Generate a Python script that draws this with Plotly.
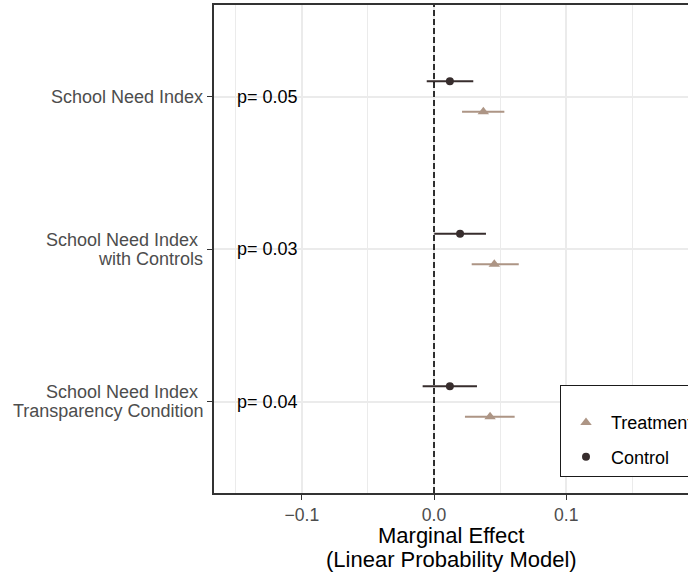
import plotly.graph_objects as go

categories = [["School Need Index"],
              ["School Need Index\u00a0", "with Controls"],
              ["School Need Index\u00a0", "Transparency Condition"]]
cat_pos = [3, 2, 1]
control_est = [0.012, 0.0197, 0.012]
control_lo = [-0.0055, 0.0002, -0.0086]
control_hi = [0.0297, 0.0393, 0.0325]
treat_est = [0.0373, 0.0456, 0.0424]
treat_lo = [0.0212, 0.0285, 0.0234]
treat_hi = [0.0532, 0.0641, 0.0610]
p_labels = ["p= 0.05", "p= 0.03", "p= 0.04"]
x_tickvals = [-0.1, 0.0, 0.1, 0.2]
x_ticktext = ["\u22120.1", "0.0", "0.1", "0.2"]
x_title_lines = ["Marginal Effect", "(Linear Probability Model)"]

dodge = 0.1
col_control = "#372D2D"
col_treat = "#AD9585"
FONT = "Liberation Sans, Arial, sans-serif"

fig = go.Figure()
fig.add_trace(go.Scatter(
    x=treat_est, y=[p - dodge for p in cat_pos], mode="markers", name="Treatment",
    legendgroup="t",
    marker=dict(symbol="triangle-up", size=10, color=col_treat),
    error_x=dict(type="data", symmetric=False,
                 array=[h - e for h, e in zip(treat_hi, treat_est)],
                 arrayminus=[e - l for e, l in zip(treat_est, treat_lo)],
                 width=0, thickness=2, color=col_treat),
))
fig.add_trace(go.Scatter(
    x=control_est, y=[p + dodge for p in cat_pos], mode="markers", name="Control",
    legendgroup="c",
    marker=dict(symbol="circle", size=8, color=col_control),
    error_x=dict(type="data", symmetric=False,
                 array=[h - e for h, e in zip(control_hi, control_est)],
                 arrayminus=[e - l for e, l in zip(control_est, control_lo)],
                 width=0, thickness=2, color=col_control),
))

fig.add_shape(type="line", xref="x", yref="paper", x0=0, x1=0, y0=0, y1=1,
              line=dict(color="black", width=1.6, dash="6px,3px"), layer="above")

# p-value labels
for p, lab in zip(cat_pos, p_labels):
    fig.add_annotation(x=-0.15, y=p, xref="x", yref="y", text=lab, showarrow=False,
                       xanchor="left", yanchor="middle", xshift=-1,
                       font=dict(family=FONT, size=18, color="black"))

# y category labels (tight line spacing like the reference)
LINE = 19
for p, lines in zip(cat_pos, categories):
    n = len(lines)
    for i, ln in enumerate(lines):
        fig.add_annotation(x=0, y=p, xref="paper", yref="y", text=ln, showarrow=False,
                           xanchor="right", yanchor="middle", xshift=-9,
                           yshift=((n - 1) / 2 - i) * LINE,
                           font=dict(family=FONT, size=18, color="#4D4D4D"))

# x axis title (two lines)
for i, ln in enumerate(x_title_lines):
    fig.add_annotation(x=0.5, y=0, xref="paper", yref="paper", text=ln, showarrow=False,
                       xanchor="center", yanchor="middle", yshift=-42 - 24 * i,
                       font=dict(family=FONT, size=22, color="black"))

fig.update_layout(
    width=688, height=575,
    margin=dict(l=214, r=0, t=5, b=82, autoexpand=False),
    paper_bgcolor="white", plot_bgcolor="white",
    font=dict(family=FONT, size=17.6, color="#4D4D4D"),
    showlegend=True,
    legend=dict(x=(560 - 214) / 474, y=(493 - 385) / 488, xanchor="left", yanchor="top",
                bgcolor="white", bordercolor="#1a1a1a", borderwidth=1,
                font=dict(family=FONT, size=18, color="black"),
                title=dict(text=" ", font=dict(size=14)),
                traceorder="grouped", tracegroupgap=8, itemwidth=40),
)
fig.update_xaxes(
    range=[-0.1664, 0.1921], tickvals=x_tickvals, ticktext=x_ticktext,
    showgrid=True, gridcolor="#EBEBEB", gridwidth=1.6,
    minor=dict(dtick=0.05, tick0=0, showgrid=True, gridcolor="#EBEBEB", gridwidth=0.9),
    zeroline=False, showline=True, linecolor="#333333", linewidth=1.6, mirror=True,
    ticks="outside", ticklen=5, tickwidth=1.4, tickcolor="#333333",
    tickfont=dict(family=FONT, size=17.6, color="#4D4D4D"),
)
fig.update_yaxes(
    range=[0.4, 3.6], tickvals=cat_pos, showticklabels=False,
    showgrid=True, gridcolor="#EBEBEB", gridwidth=1.6,
    zeroline=False, showline=True, linecolor="#333333", linewidth=1.6, mirror=False,
    ticks="outside", ticklen=5, tickwidth=1.4, tickcolor="#333333",
)

fig.write_html("out.html", config={"displayModeBar": False},
               post_script="document.body.style.margin='0px';")
